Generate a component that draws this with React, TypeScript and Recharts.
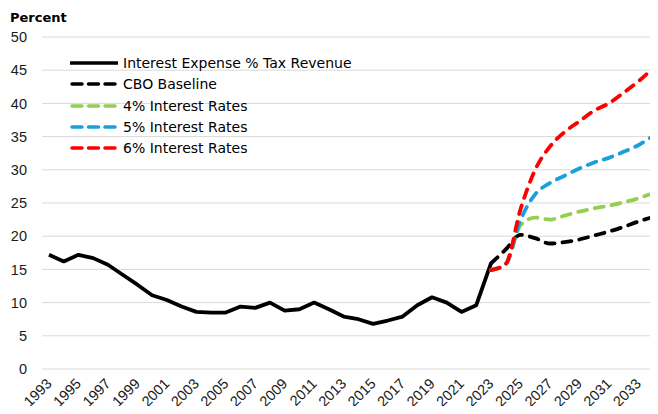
import React from 'react';
import { LineChart, Line, XAxis, YAxis, CartesianGrid } from 'recharts';

const years = [
  1993, 1994, 1995, 1996, 1997, 1998, 1999, 2000, 2001, 2002, 2003, 2004, 2005, 2006,
  2007, 2008, 2009, 2010, 2011, 2012, 2013, 2014, 2015, 2016, 2017, 2018, 2019, 2020,
  2021, 2022, 2023, 2024, 2025, 2026, 2027, 2028, 2029, 2030, 2031, 2032, 2033, 2034,
];

// 1993 - 2023
const interestExpense = [
  17.2, 16.2, 17.2, 16.7, 15.7, 14.2, 12.7, 11.1, 10.4, 9.4, 8.6, 8.5, 8.5, 9.4,
  9.2, 10.0, 8.8, 9.0, 10.0, 9.0, 7.9, 7.5, 6.8, 7.3, 7.9, 9.6, 10.8, 10.0,
  8.6, 9.6, 15.9,
];

// projections 2023 - 2034
const projectionYears = [2023, 2024, 2025, 2026, 2027, 2028, 2029, 2030, 2031, 2032, 2033, 2034];
const cboBaseline = [15.9, 18.0, 20.2, 19.7, 18.9, 19.1, 19.5, 20.1, 20.7, 21.4, 22.2, 22.9];
const rates4 = [14.9, 15.8, 21.6, 22.8, 22.5, 23.1, 23.7, 24.2, 24.6, 25.1, 25.7, 26.5];
const rates5 = [14.9, 15.8, 22.4, 26.3, 28.0, 29.1, 30.2, 31.1, 31.8, 32.7, 33.7, 35.1];
const rates6 = [14.9, 15.8, 24.0, 30.0, 33.5, 35.7, 37.3, 38.9, 40.0, 41.6, 43.3, 45.3];

const yTicks = [0, 5, 10, 15, 20, 25, 30, 35, 40, 45, 50];
const seriesNames = [
  'Interest Expense % Tax Revenue',
  'CBO Baseline',
  '4% Interest Rates',
  '5% Interest Rates',
  '6% Interest Rates',
];
const yAxisTitle = 'Percent';

const projIdx = (y: number) => projectionYears.indexOf(y);
const data = years.map((y, i) => {
  const p = projIdx(y);
  return {
    year: String(y),
    actual: i < interestExpense.length ? interestExpense[i] : null,
    cbo: p >= 0 ? cboBaseline[p] : null,
    r4: p >= 0 ? rates4[p] : null,
    r5: p >= 0 ? rates5[p] : null,
    r6: p >= 0 ? rates6[p] : null,
  };
});

const seriesStyle = [
  { key: 'actual', color: '#000000', dash: undefined as string | undefined },
  { key: 'cbo', color: '#000000', dash: '9 8' },
  { key: 'r4', color: '#92D050', dash: '9 8' },
  { key: 'r5', color: '#1A9FDB', dash: '9 8' },
  { key: 'r6', color: '#FF0000', dash: '9 8' },
];

const tickFont = '"Liberation Sans", Arial, sans-serif';

const XTick = (props: any) => {
  const { x, y, payload } = props;
  return (
    <g transform={`translate(${x},${y})`}>
      <text
        transform="rotate(-45)"
        textAnchor="end"
        dy="0.35em"
        style={{ fontSize: 14.5, fontFamily: tickFont }}
        fill="#1a1a1a"
      >
        {payload.value}
      </text>
    </g>
  );
};

export default function App() {
  return (
    <div
      style={{
        position: 'relative',
        width: 658,
        height: 414,
        margin: -8,
        background: '#ffffff',
        overflow: 'hidden',
      }}
    >
      <LineChart
        width={658}
        height={414}
        data={data}
        margin={{ top: 37, right: 0, bottom: 0, left: 0 }}
      >
        <CartesianGrid vertical={false} stroke="#d9d9d9" strokeWidth={1} />
        <XAxis
          dataKey="year"
          interval={1}
          padding={{ left: 7, right: 5 }}
          axisLine={false}
          tickLine={false}
          tickSize={0}
          tickMargin={12}
          height={45}
          tick={<XTick />}
        />
        <YAxis
          domain={[0, 50]}
          ticks={yTicks}
          width={42}
          axisLine={false}
          tickLine={false}
          tickSize={0}
          tickMargin={15}
          tick={{ fontSize: 14.5, fontFamily: tickFont, fill: '#1a1a1a' }}
        />
        {seriesStyle.map((s, i) => (
          <Line
            key={s.key}
            dataKey={s.key}
            name={seriesNames[i]}
            type={i === 0 ? 'linear' : 'monotone'}
            stroke={s.color}
            strokeWidth={3.8}
            strokeDasharray={s.dash}
            strokeLinecap={s.dash ? 'round' : 'butt'}
            strokeLinejoin="round"
            dot={false}
            activeDot={false}
            connectNulls={false}
            isAnimationActive={false}
          />
        ))}
      </LineChart>

      <div
        style={{
          position: 'absolute',
          left: 10,
          top: 11,
          fontFamily: '"DejaVu Sans", sans-serif',
          fontWeight: 'bold',
          fontSize: 13,
          lineHeight: '13px',
          color: '#000',
        }}
      >
        {yAxisTitle}
      </div>

      <div
        style={{
          position: 'absolute',
          left: 70,
          top: 52.4,
          fontFamily: '"DejaVu Sans", sans-serif',
          fontSize: 14,
          color: '#000',
        }}
      >
        {seriesStyle.map((s, i) => (
          <div
            key={s.key}
            style={{ display: 'flex', alignItems: 'center', height: 21.3, whiteSpace: 'nowrap' }}
          >
            <svg width={48} height={10} style={{ marginRight: 5, display: 'block' }}>
              <line
                x1={s.dash ? 2 : 0}
                x2={s.dash ? 46 : 48}
                y1={5}
                y2={5}
                stroke={s.color}
                strokeWidth={3.5}
                strokeDasharray={s.dash ? '10 6.5' : undefined}
                strokeLinecap={s.dash ? 'round' : 'butt'}
              />
            </svg>
            <span>{seriesNames[i]}</span>
          </div>
        ))}
      </div>
    </div>
  );
}
